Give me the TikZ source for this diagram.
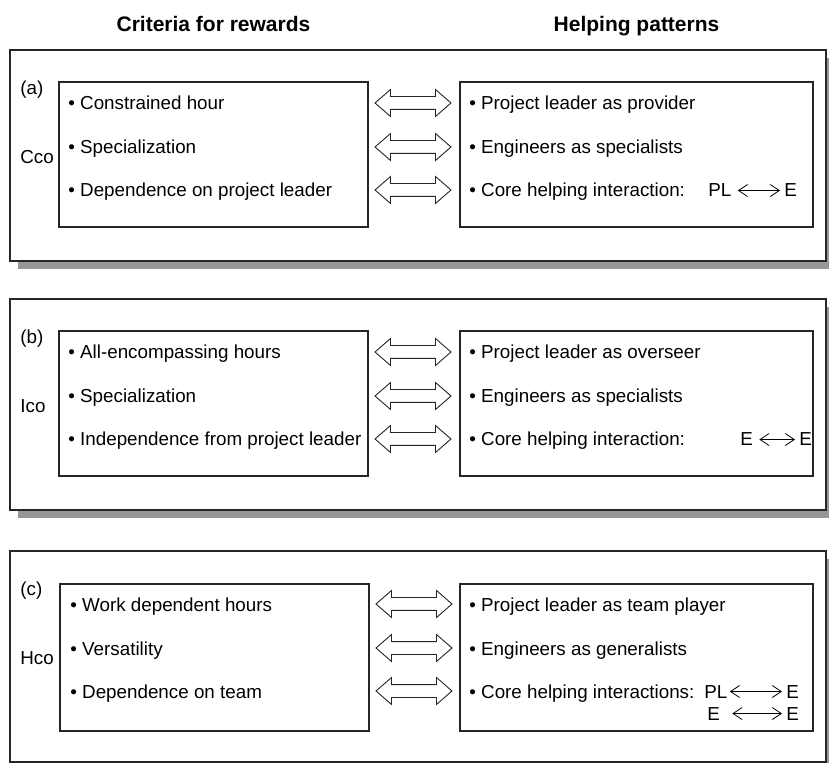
\documentclass[tikz,border=0pt]{standalone}
\usepackage{fontspec}
\setmainfont{Liberation Sans}
\usepackage{tikz}
\usetikzlibrary{shapes.arrows, arrows.meta, positioning}
\definecolor{shadowgray}{RGB}{151,151,153}
\tikzstyle{panel} = [rectangle, draw=black!85, line width=1pt, fill=white, minimum width=408pt, minimum height=105.5pt, inner sep=0pt]
\tikzstyle{panelshadow} = [rectangle, fill=shadowgray, minimum width=408pt, minimum height=105.5pt, inner sep=0pt]
\tikzstyle{listbox} = [rectangle, draw=black!85, line width=0.7pt, minimum height=72.5pt, inner sep=0pt]
\tikzstyle{item} = [anchor=base west, inner sep=0pt, font=\fontsize{9.4}{11}\selectfont]
\tikzstyle{tag} = [anchor=west, inner sep=0pt, font=\fontsize{9.4}{11}\selectfont]
\tikzstyle{heading} = [anchor=base, inner sep=0pt, font=\fontsize{10.5}{12}\selectfont\bfseries]
\tikzstyle{link} = [double arrow, draw=black!85, line width=0.45pt, fill=white, minimum height=38pt, minimum width=13pt, double arrow head extend=3.5pt, double arrow tip angle=82, inner xsep=0pt, inner ysep=3pt]
\tikzstyle{swap} = [line width=0.4pt, {Straight Barb[length=4.5pt,width=6pt]}-{Straight Barb[length=4.5pt,width=6pt]}, shorten <=1pt, shorten >=2pt]

\begin{document}
\begin{tikzpicture}[x=0.5pt, y=-0.5pt]
        \useasboundingbox (0,0) rectangle (829,763);

        % headings
        \node[heading] (Criteria) at (213.5,32) {Criteria for rewards};
        \node[heading] (Patterns) at (636.5,32) {Helping patterns};

        % panel (a)
        \node[panelshadow] (ShadowA) at (426,163.5) {};
        \node[panel] (PanelA) at (418,155.5) {};
        \node[tag] (TagA) at (20,89.5) {(a)};
        \node[tag] (CodeA) at (20,157) {Cco};
        \node[listbox, minimum width=154.5pt] (LeftA) at (213.5,154.5) {};
        \node[listbox, minimum width=176.5pt] (RightA) at (636.5,154.5) {};
        \node[item] (CritA1) at (68,110) {\textbullet\ Constrained hour};
        \node[item] (CritA2) at (68,154) {\textbullet\ Specialization};
        \node[item] (CritA3) at (68,197) {\textbullet\ Dependence on project leader};
        \node[item] (PatA1) at (469,110) {\textbullet\ Project leader as provider};
        \node[item] (PatA2) at (469,154) {\textbullet\ Engineers as specialists};
        \node[item] (PatA3) at (469,197) {\textbullet\ Core helping interaction:};
        \node[item] (PLa) at (708,197) {PL};
        \node[item] (Ea) at (784,197) {E};
        \draw [swap, shorten <=3pt] (PLa) -- (Ea);
        \node[link] (LinkA1) at (413,103) {};
        \node[link] (LinkA2) at (413,147) {};
        \node[link] (LinkA3) at (413,190) {};

        % panel (b)
        \node[panelshadow] (ShadowB) at (426,412.5) {};
        \node[panel] (PanelB) at (418,404.5) {};
        \node[tag] (TagB) at (20,338.5) {(b)};
        \node[tag] (CodeB) at (20,406) {Ico};
        \node[listbox, minimum width=154.5pt] (LeftB) at (213.5,403.5) {};
        \node[listbox, minimum width=176.5pt] (RightB) at (636.5,403.5) {};
        \node[item] (CritB1) at (68,359) {\textbullet\ All-encompassing hours};
        \node[item] (CritB2) at (68,403) {\textbullet\ Specialization};
        \node[item] (CritB3) at (68,446) {\textbullet\ Independence from project leader};
        \node[item] (PatB1) at (469,359) {\textbullet\ Project leader as overseer};
        \node[item] (PatB2) at (469,403) {\textbullet\ Engineers as specialists};
        \node[item] (PatB3) at (469,446) {\textbullet\ Core helping interaction:};
        \node[item] (EbL) at (740,446) {E};
        \node[item] (EbR) at (799,446) {E};
        \draw [swap, shorten <=3pt] (EbL) -- (EbR);
        \node[link] (LinkB1) at (413,352) {};
        \node[link] (LinkB2) at (413,396) {};
        \node[link] (LinkB3) at (413,439) {};

        % panel (c)
        \node[panelshadow] (ShadowC) at (426,664.5) {};
        \node[panel] (PanelC) at (418,656.5) {};
        \node[tag] (TagC) at (20,590.5) {(c)};
        \node[tag] (CodeC) at (20,658) {Hco};
        \node[listbox, minimum width=154.5pt, minimum height=73.5pt] (LeftC) at (214.5,657.5) {};
        \node[listbox, minimum width=176.5pt, minimum height=73.5pt] (RightC) at (636.5,657.5) {};
        \node[item] (CritC1) at (70,611) {\textbullet\ Work dependent hours};
        \node[item] (CritC2) at (70,655) {\textbullet\ Versatility};
        \node[item] (CritC3) at (70,698) {\textbullet\ Dependence on team};
        \node[item] (PatC1) at (469,611) {\textbullet\ Project leader as team player};
        \node[item] (PatC2) at (469,655) {\textbullet\ Engineers as generalists};
        \node[item] (PatC3) at (469,698) {\textbullet\ Core helping interactions:};
        \node[item] (PLc) at (704,698) {PL};
        \node[item] (Ec) at (786,698) {E};
        \draw [swap] (PLc) -- (Ec);
        \node[item] (EcL) at (707,720) {E};
        \node[item] (EcR) at (786,720) {E};
        \draw [swap, shorten <=6pt] (EcL) -- (EcR);
        \node[link] (LinkC1) at (414,604) {};
        \node[link] (LinkC2) at (414,648) {};
        \node[link] (LinkC3) at (414,691) {};
\end{tikzpicture}
\end{document}
